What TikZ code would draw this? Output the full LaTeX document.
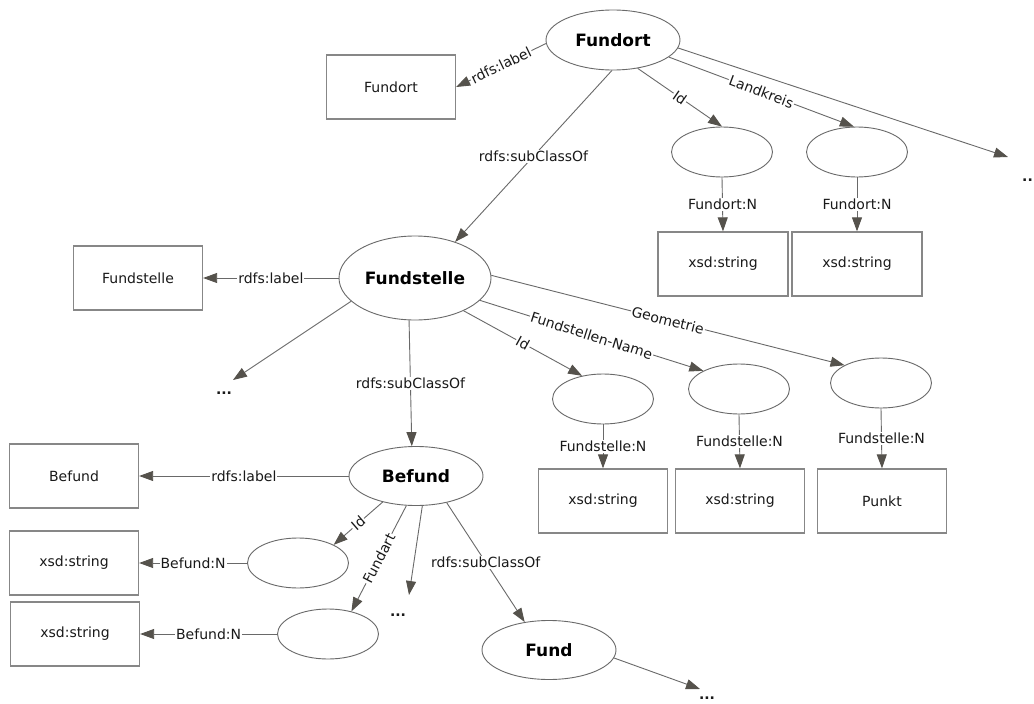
\documentclass[tikz,border=0pt]{standalone}
\usepackage{fontspec}
\setmainfont{DejaVu Sans}
\usetikzlibrary{shapes.geometric,arrows.meta}
\definecolor{edgec}{RGB}{105,105,105}
\definecolor{tipc}{RGB}{85,82,76}
\definecolor{boxc}{RGB}{135,135,135}
\definecolor{txtc}{RGB}{25,25,25}
\begin{document}
\begin{tikzpicture}[x=1pt,y=-1pt,
 cls/.style={ellipse,draw=edgec,line width=0.9pt,inner sep=0pt,font=\fontsize{17}{19}\selectfont\bfseries},
 res/.style={ellipse,draw=edgec,line width=0.9pt,minimum width=101pt,minimum height=50pt,inner sep=0pt},
 lit/.style={rectangle,draw=boxc,line width=1.3pt,minimum width=129pt,minimum height=64pt,inner sep=0pt,font=\fontsize{14}{16}\selectfont,text=txtc},
 rel/.style={draw=edgec,line width=0.9pt,-{Triangle[length=14pt,width=10pt,color=tipc]}},
 lab/.style={fill=white,inner sep=1pt,font=\fontsize{14}{16}\selectfont,text=txtc},
 dotsst/.style={inner sep=0pt,font=\fontsize{14}{16}\selectfont\bfseries,text=txtc}]
\useasboundingbox[fill=white] (0,0) rectangle (1034,704);
% Fundort
\node[cls,minimum width=134pt,minimum height=60pt] (fundort) at (613,40) {Fundort};
\node[lit] (fundortL) at (391,87) {Fundort};
\node[res] (fo1) at (722,152) {};
\node[res] (fo2) at (857,152) {};
\node[lit,minimum width=130pt] (fo1t) at (723,264) {xsd:string};
\node[lit,minimum width=130pt] (fo2t) at (857,264) {xsd:string};
\coordinate (fodots) at (1008,157);
\node[dotsst,anchor=west] (fodotsT) at (1022,180) {..};
% Fundstelle
\node[cls,minimum width=152pt,minimum height=84pt] (fst) at (415,278) {Fundstelle};
\node[lit] (fstL) at (138,278) {Fundstelle};
\coordinate (fstdots) at (233,380);
\node[dotsst] (fstdotsT) at (224,393) {...};
\node[res] (fs1) at (603,399) {};
\node[res] (fs2) at (739,389) {};
\node[res] (fs3) at (881,383) {};
\node[lit] (fs1t) at (603,501) {xsd:string};
\node[lit] (fs2t) at (740,501) {xsd:string};
\node[lit] (fs3t) at (882,501) {Punkt};
% Befund
\node[cls,minimum width=134pt,minimum height=59pt] (bef) at (416,476) {Befund};
\node[lit] (befL) at (74,476) {Befund};
\node[res] (be1) at (298,563) {};
\node[res] (be2) at (328,634) {};
\node[lit] (be1t) at (74,563) {xsd:string};
\node[lit] (be2t) at (75,634) {xsd:string};
\coordinate (bedots) at (409,595);
\node[dotsst] (bedotsT) at (398,615) {...};
\node[cls,minimum width=134pt,minimum height=59pt] (fund) at (549,650) {Fund};
\coordinate (fudots) at (700,689);
\node[dotsst] (fudotsT) at (707,698) {...};
% edges Fundort
\draw[rel] (fundort.183) -- node[lab,sloped]{rdfs:label} (fundortL.east);
\draw[rel] (fundort.268) -- node[lab]{rdfs:subClassOf} (fst.42);
\draw[rel] (fundort.311) -- node[lab,sloped]{Id} (fo1.north);
\draw[rel] (fundort.343) -- node[lab,sloped]{Landkreis} (fo2.97);
\draw[rel] (fundort.353) -- (fodots);
\draw[rel] (fo1.south) -- node[lab]{Fundort:N} (fo1t.north);
\draw[rel] (fo2.south) -- node[lab]{Fundort:N} (fo2t.north);
% edges Fundstelle
\draw[rel] (fst.west) -- node[lab]{rdfs:label} (fstL.east);
\draw[rel] (fst.200) -- (fstdots);
\draw[rel] (fst.262) -- node[lab]{rdfs:subClassOf} (bef.98);
\draw[rel] (fst.326) -- node[lab,sloped]{Id} (fs1.132);
\draw[rel] (fst.341) -- node[lab,sloped]{Fundstellen-Name} (fs2.153);
\draw[rel] (fst.2) -- node[lab,sloped]{Geometrie} (fs3.154);
\draw[rel] (fs1.south) -- node[lab]{Fundstelle:N} (fs1t.north);
\draw[rel] (fs2.south) -- node[lab]{Fundstelle:N} (fs2t.north);
\draw[rel] (fs3.south) -- node[lab]{Fundstelle:N} (fs3t.north);
% edges Befund
\draw[rel] (bef.west) -- node[lab]{rdfs:label} (befL.east);
\draw[rel] (bef.218) -- node[lab,sloped]{Id} (be1.27);
\draw[rel] (bef.252) -- node[lab,sloped]{Fundart} (be2.44);
\draw[rel] (bef.282) -- (bedots);
\draw[rel] (bef.319) -- node[lab]{rdfs:subClassOf} (fund.131);
\draw[rel] (be1.west) -- node[lab]{Befund:N} (be1t.east);
\draw[rel] (be2.west) -- node[lab]{Befund:N} (be2t.east);
\draw[rel] (fund.353) -- (fudots);
\end{tikzpicture}
\end{document}
